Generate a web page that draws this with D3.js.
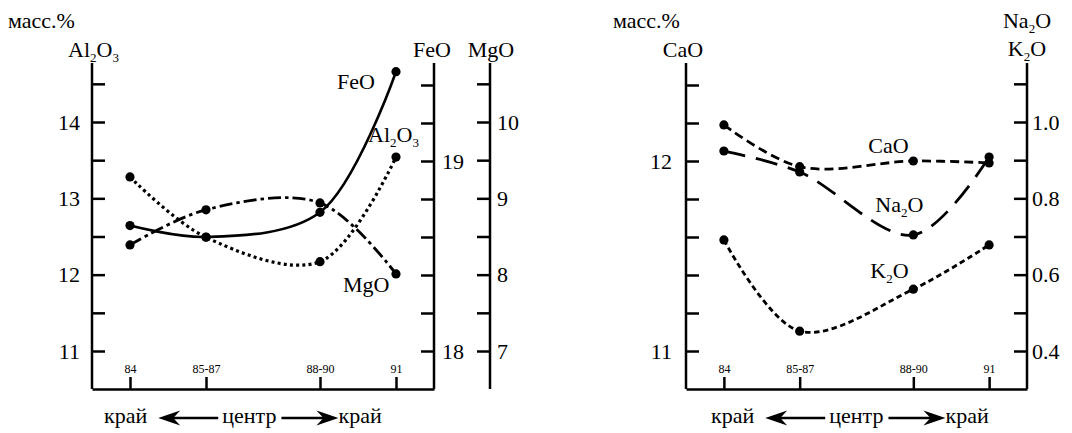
<!DOCTYPE html>
<html>
<head>
<meta charset="utf-8">
<script src="https://cdn.jsdelivr.net/npm/d3@7/dist/d3.min.js"></script>
</head>
<body style="margin:0">
<svg id="chart" width="1072" height="433"></svg>
<script>
// Sample groups along the profile and their position (sample number midpoint)
const categories = ["84", "85-87", "88-90", "91"];
const samplePos = [84, 86, 89, 91];

// Left panel, wt.%
const al2o3 = [13.28, 12.49, 12.17, 13.54];
const feo   = [18.66, 18.60, 18.73, 19.47];
const mgo   = [8.39, 8.85, 8.94, 8.01];

// Right panel, wt.%
const cao  = [12.19, 11.97, 12.00, 11.99];
const na2o = [0.924, 0.869, 0.704, 0.908];
const k2o  = [0.691, 0.452, 0.562, 0.678];

// Axis ticks
const alTicks  = [11, 11.5, 12, 12.5, 13, 13.5, 14, 14.5];
const feTicks  = [18, 18.2, 18.4, 18.6, 18.8, 19, 19.2, 19.4];
const mgTicks  = [7, 7.5, 8, 8.5, 9, 9.5, 10, 10.5];
const caTicks  = [11, 11.2, 11.4, 11.6, 11.8, 12, 12.2, 12.4];
const alkTicks = [0.4, 0.5, 0.6, 0.7, 0.8, 0.9, 1.0, 1.1];

const FONT = '"Liberation Serif"';
const svg = d3.select("#chart");
const FS = 22;
const TOP = 63, BOTTOM = 389;

function txt(g, x, y, s, size) {
  return g.append("text").attr("x", x).attr("y", y)
    .style("font-family", FONT).attr("font-size", size || FS)
    .attr("fill", "#000").text(s);
}

function subLabel(g, x, y, parts, anchor) {
  // parts: [[text, isSub], ...]
  const t = g.append("text").attr("x", x).attr("y", y)
    .style("font-family", FONT).attr("font-size", FS)
    .attr("fill", "#000").attr("text-anchor", anchor || "start");
  let shifted = false;
  parts.forEach(([s, sub]) => {
    const ts = t.append("tspan").text(s);
    if (sub) { ts.attr("font-size", 13).attr("dy", shifted ? 0 : 5); shifted = true; }
    else { ts.attr("dy", shifted ? -5 : 0); shifted = false; }
  });
  return t;
}

function styleAxis(sel) {
  sel.attr("font-family", null).attr("font-size", null);
  sel.selectAll(".domain").remove();
  sel.selectAll(".tick line").attr("stroke", "#000").attr("stroke-width", 2.5);
  sel.selectAll(".tick text").attr("font-size", FS).style("font-family", FONT).attr("fill", "#000");
}

function vline(g, x) {
  g.append("line").attr("x1", x).attr("x2", x).attr("y1", TOP).attr("y2", BOTTOM)
    .attr("stroke", "#000").attr("stroke-width", 2.5);
}

function arrowHead(g, x, y, dir) {
  // stealth-style head with tip at (x, y), pointing in dir (+1 right, -1 left)
  const L = 22, H = 7.5, N = 7;
  const p = d3.path();
  p.moveTo(x, y);
  p.lineTo(x - dir * L, y - H);
  p.lineTo(x - dir * (L - N), y);
  p.lineTo(x - dir * L, y + H);
  p.closePath();
  g.append("path").attr("d", p.toString()).attr("fill", "#000");
}

function directionRow(g, x0, y) {
  // край <—— центр ——> край
  const t1 = txt(g, x0, y, "край");
  const w1 = t1.node().getComputedTextLength();
  const a1 = x0 + w1 + 11;
  const cx = a1 + 64;
  const tc = txt(g, cx, y, "центр");
  const wc = tc.node().getComputedTextLength();
  const ay = y - 5;
  g.append("line").attr("x1", a1 + 10).attr("x2", cx - 4).attr("y1", ay).attr("y2", ay)
    .attr("stroke", "#000").attr("stroke-width", 2.5);
  arrowHead(g, a1, ay, -1);
  const b0 = cx + wc + 5;
  const tip = b0 + 57;
  g.append("line").attr("x1", b0).attr("x2", tip - 10).attr("y1", ay).attr("y2", ay)
    .attr("stroke", "#000").attr("stroke-width", 2.5);
  arrowHead(g, tip, ay, 1);
  txt(g, tip, y, "край");
}

function series(g, x, y, vals, dash, width) {
  const pts = samplePos.map((s, i) => [x(s), y(vals[i])]);
  const line = d3.line().curve(d3.curveCatmullRom.alpha(0.5));
  g.append("path").attr("d", line(pts)).attr("fill", "none")
    .attr("stroke", "#000").attr("stroke-width", width)
    .attr("stroke-dasharray", dash);
  g.selectAll(null).data(pts).enter().append("circle")
    .attr("cx", d => d[0]).attr("cy", d => d[1]).attr("r", 4.6).attr("fill", "#000");
  return pts;
}

function bottomAxis(g, x) {
  const ax = d3.axisTop(x).tickValues(samplePos)
    .tickFormat((d, i) => categories[i]).tickSize(12).tickSizeOuter(0).tickPadding(4);
  const a = g.append("g").attr("transform", `translate(0,${BOTTOM})`).call(ax);
  a.attr("font-family", null).attr("font-size", null);
  a.select(".domain").attr("stroke", "#000").attr("stroke-width", 2.5);
  a.selectAll(".tick line").attr("stroke", "#000").attr("stroke-width", 2.5);
  a.selectAll(".tick text").attr("font-size", 12).style("font-family", FONT).attr("fill", "#000");
}

// ---------------- Left panel ----------------
{
  const g = svg.append("g");
  const x = d3.scaleLinear().domain([83, 92]).range([92, 434]);
  const yAl = d3.scaleLinear().domain([11, 14]).range([351, 122]);
  const yFe = d3.scaleLinear().domain([18, 19]).range([351, 161]);
  const yMg = d3.scaleLinear().domain([7, 10]).range([351, 122]);

  vline(g, 92); vline(g, 434); vline(g, 490);

  const aL = g.append("g").attr("transform", "translate(92,0)")
    .call(d3.axisLeft(yAl).tickValues(alTicks).tickSize(-13).tickPadding(12)
      .tickFormat(d => Number.isInteger(d) ? d : ""));
  styleAxis(aL);
  const aF = g.append("g").attr("transform", "translate(434,0)")
    .call(d3.axisRight(yFe).tickValues(feTicks).tickSize(-13).tickPadding(8)
      .tickFormat(d => Math.abs(d - Math.round(d)) < 1e-9 ? d : ""));
  styleAxis(aF);
  const aM = g.append("g").attr("transform", "translate(490,0)")
    .call(d3.axisRight(yMg).tickValues(mgTicks).tickSize(-13).tickPadding(7)
      .tickFormat(d => Number.isInteger(d) ? d : ""));
  styleAxis(aM);

  bottomAxis(g, x);

  txt(g, 8, 28, "масс.%");
  subLabel(g, 68, 57, [["Al", 0], ["2", 1], ["O", 0], ["3", 1]]);
  txt(g, 432, 57, "FeO").attr("text-anchor", "middle");
  txt(g, 491, 57, "MgO").attr("text-anchor", "middle");

  const pFe = series(g, x, yFe, feo, null, 2.6);
  const pAl = series(g, x, yAl, al2o3, "3,3.2", 3.2);
  const pMg = series(g, x, yMg, mgo, "13,4,3.5,4", 2.8);

  txt(g, pFe[3][0] - 59, pFe[3][1] + 17, "FeO");
  subLabel(g, pAl[3][0] - 28, pAl[3][1] - 15, [["Al", 0], ["2", 1], ["O", 0], ["3", 1]]);
  txt(g, pMg[3][0] - 53, pMg[3][1] + 18, "MgO");

  directionRow(g, 104, 423);
}

// ---------------- Right panel ----------------
{
  const g = svg.append("g");
  const x = d3.scaleLinear().domain([83, 92]).range([686, 1027]);
  const yCa = d3.scaleLinear().domain([11, 12]).range([351, 161]);
  const yAlk = d3.scaleLinear().domain([0.4, 1.0]).range([351, 122]);

  vline(g, 686); vline(g, 1027);

  const aC = g.append("g").attr("transform", "translate(686,0)")
    .call(d3.axisLeft(yCa).tickValues(caTicks).tickSize(-13).tickPadding(14)
      .tickFormat(d => Math.abs(d - Math.round(d)) < 1e-9 ? Math.round(d) : ""));
  styleAxis(aC);
  const aK = g.append("g").attr("transform", "translate(1027,0)")
    .call(d3.axisRight(yAlk).tickValues(alkTicks).tickSize(-13).tickPadding(5)
      .tickFormat(d => [0.4, 0.6, 0.8, 1.0].some(v => Math.abs(v - d) < 1e-9) ? d3.format(".1f")(d) : ""));
  styleAxis(aK);

  bottomAxis(g, x);

  txt(g, 613, 28, "масс.%");
  txt(g, 683, 57, "CaO").attr("text-anchor", "middle");
  subLabel(g, 1027, 28, [["Na", 0], ["2", 1], ["O", 0]], "middle");
  subLabel(g, 1027, 56, [["K", 0], ["2", 1], ["O", 0]], "middle");

  const pCa = series(g, x, yCa, cao, "9,5", 2.8);
  const pNa = series(g, x, yAlk, na2o, "22,11", 2.8);
  const pK  = series(g, x, yAlk, k2o, "5.5,3.5", 2.8);

  txt(g, pCa[2][0] - 45, pCa[2][1] - 8, "CaO");
  subLabel(g, pNa[2][0] - 38, pNa[2][1] - 23, [["Na", 0], ["2", 1], ["O", 0]]);
  subLabel(g, pK[2][0] - 43, pK[2][1] - 11, [["K", 0], ["2", 1], ["O", 0]]);

  directionRow(g, 711, 423);
}
</script>
</body>
</html>
